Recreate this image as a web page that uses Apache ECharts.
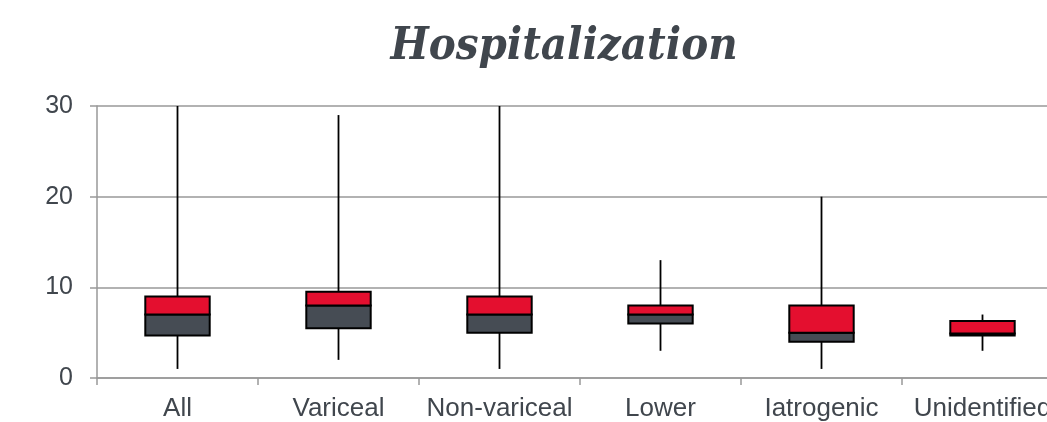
<!DOCTYPE html>
<html>
<head>
<meta charset="utf-8">
<script src="https://cdn.jsdelivr.net/npm/echarts@6/dist/echarts.min.js"></script>
<style>
  html, body { margin: 0; padding: 0; background: #fff; overflow: hidden; }
  /* the chart is wider than the window; its right end is cut off like in the original */
  #main { width: 1120px; height: 422px; }
</style>
</head>
<body>
<div id="main"></div>
<script>
// categories and box values
var categories = ['All', 'Variceal', 'Non-variceal', 'Lower', 'Iatrogenic', 'Unidentified'];
var lowWhisker = [1, 2, 1, 3, 1, 3];
var q1Values = [4.7, 5.5, 5, 6, 4, 4.7];
var medianValues = [7, 8, 7, 7, 5, 4.9];
var q3Values = [9, 9.5, 9, 8, 8, 6.3];
var highWhisker = [30, 29, 30, 13, 20, 7];
var yTicks = [0, 10, 20, 30];

var textColor = '#40464d';
var boxRed = '#e40f2f';
var boxGray = '#464c54';

var boxData = categories.map(function (c, i) {
  return [i, lowWhisker[i], q1Values[i], medianValues[i], q3Values[i], highWhisker[i]];
});

function renderBox(params, api) {
  var idx = api.value(0);
  var pMin = api.coord([idx, api.value(1)]);
  var pQ1 = api.coord([idx, api.value(2)]);
  var pMed = api.coord([idx, api.value(3)]);
  var pQ3 = api.coord([idx, api.value(4)]);
  var pMax = api.coord([idx, api.value(5)]);
  var w = api.size([1, 0])[0] * 0.4;
  var x0 = pQ1[0] - w / 2;
  var lineStyle = { stroke: '#000', lineWidth: 1.8 };
  return {
    type: 'group',
    children: [
      { type: 'line', shape: { x1: pMax[0], y1: pMax[1], x2: pQ3[0], y2: pQ3[1] }, style: lineStyle },
      { type: 'line', shape: { x1: pQ1[0], y1: pQ1[1], x2: pMin[0], y2: pMin[1] }, style: lineStyle },
      { type: 'rect', shape: { x: x0, y: pMed[1], width: w, height: pQ1[1] - pMed[1] },
        style: { fill: boxGray, stroke: '#000', lineWidth: 2 } },
      { type: 'rect', shape: { x: x0, y: pQ3[1], width: w, height: pMed[1] - pQ3[1] },
        style: { fill: boxRed, stroke: '#000', lineWidth: 2 } }
    ]
  };
}

var myChart = echarts.init(document.getElementById('main'));
var option = {
  animation: false,
  title: {
    text: 'Hospitalization',
    left: 559,
    textAlign: 'center',
    top: 20,
    textStyle: {
      fontFamily: 'DejaVu Serif Condensed',
      fontStyle: 'italic',
      fontWeight: 'bold',
      fontSize: 45,
      color: textColor
    }
  },
  grid: { left: 97, top: 106, width: 966, height: 273, containLabel: false },
  xAxis: {
    type: 'category',
    data: categories,
    boundaryGap: true,
    axisLine: { lineStyle: { color: '#999', width: 1.5 } },
    axisTick: { show: true, length: 7, lineStyle: { color: '#999', width: 1.5 } },
    axisLabel: { color: textColor, fontSize: 26, fontFamily: 'Liberation Sans', margin: 18, interval: 0 },
    splitLine: { show: false }
  },
  yAxis: {
    type: 'value',
    min: yTicks[0],
    max: yTicks[yTicks.length - 1],
    interval: 10,
    axisLine: { show: true, lineStyle: { color: '#999', width: 1.5 } },
    axisTick: { show: true, length: 7, lineStyle: { color: '#999', width: 1.5 } },
    axisLabel: { color: textColor, fontSize: 25, fontFamily: 'Liberation Sans', margin: 24 },
    splitLine: { show: true, lineStyle: { color: '#999', width: 1.5 } }
  },
  series: [{
    type: 'custom',
    renderItem: renderBox,
    data: boxData,
    encode: { x: 0, y: [1, 2, 3, 4, 5] },
    clip: false,
    z: 10
  }]
};
myChart.setOption(option);
</script>
</body>
</html>
